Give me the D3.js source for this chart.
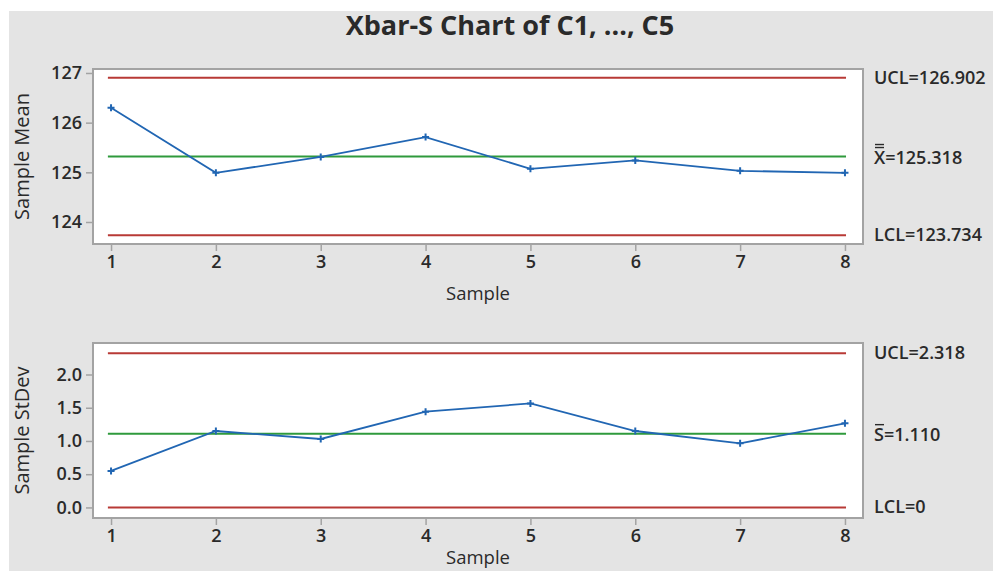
<!DOCTYPE html>
<html><head><meta charset="utf-8">
<script src="https://cdn.jsdelivr.net/npm/d3@7"></script>
<style>
html,body{margin:0;padding:0;background:#fff;}
text{font-family:"Open Sans","Noto Sans",sans-serif;fill:#2a2a2a;}
</style></head>
<body>
<svg id="chart" width="993" height="571"></svg>
<script>
const samples = [1,2,3,4,5,6,7,8];
const sampleMeans = [126.30, 124.99, 125.31, 125.71, 125.07, 125.24, 125.03, 124.99];
const sampleStDevs = [0.55, 1.15, 1.03, 1.44, 1.565, 1.15, 0.965, 1.265];
const meanTicks = [124, 125, 126, 127];
const sdTicks = [0.0, 0.5, 1.0, 1.5, 2.0];
const meanLimits = {UCL: 126.902, center: 125.318, LCL: 123.734};
const sdLimits = {UCL: 2.318, center: 1.110, LCL: 0};
const title = "Xbar-S Chart of C1, ..., C5";

const svg = d3.select("#chart");
const W = 993, H = 571;
svg.append("rect").attr("x",9).attr("y",11).attr("width",W-9).attr("height",H-11).attr("fill","#e4e4e4");

svg.append("text").attr("x",510).attr("y",35).attr("text-anchor","middle")
  .attr("font-size",27).attr("font-weight",700).text(title);

const RED="#b83a36", GREEN="#2f9a3c", BLUE="#2166b3", BORDER="#a3a3a3";
const left=93, right=863;
const x = d3.scaleLinear().domain([0.828, 8.172]).range([left, right]);

function panel(top, bottom, yDomain, ticks, fmt, values, limits, yTitle, centerSym, centerLabelFmt, xTitleOffset) {
  const y = d3.scaleLinear().domain(yDomain).range([bottom, top]);
  const g = svg.append("g");
  g.append("rect").attr("x",left).attr("y",top).attr("width",right-left).attr("height",bottom-top)
    .attr("fill","#fff").attr("stroke",BORDER).attr("stroke-width",2);
  const ya = g.append("g").attr("transform",`translate(${left-1},0)`)
    .call(d3.axisLeft(y).tickValues(ticks).tickFormat(fmt).tickSize(6).tickPadding(4));
  ya.select(".domain").remove();
  ya.selectAll("line").attr("stroke",BORDER).attr("stroke-width",1.5);
  ya.selectAll("text").attr("font-size",18).attr("font-weight",600).attr("fill","#2a2a2a").attr("font-family",'"Open Sans",sans-serif');
  const xa = g.append("g").attr("transform",`translate(0,${bottom+1})`)
    .call(d3.axisBottom(x).tickValues(samples).tickFormat(d3.format("d")).tickSize(6).tickPadding(4));
  xa.select(".domain").remove();
  xa.selectAll("line").attr("stroke",BORDER).attr("stroke-width",1.5);
  xa.selectAll("text").attr("font-size",18).attr("font-weight",600).attr("fill","#2a2a2a").attr("font-family",'"Open Sans",sans-serif');
  const x0 = x(0.97), x1 = x(8.01);
  [["UCL",RED],["center",GREEN],["LCL",RED]].forEach(([k,c])=>{
    g.append("line").attr("x1",x0).attr("x2",x1).attr("y1",y(limits[k])).attr("y2",y(limits[k]))
      .attr("stroke",c).attr("stroke-width",2);
  });
  const line = d3.line().x((d,i)=>x(samples[i])).y(d=>y(d));
  g.append("path").datum(values).attr("d",line).attr("fill","none").attr("stroke",BLUE).attr("stroke-width",1.8);
  g.selectAll(".pt").data(values).enter().append("path")
    .attr("d",(d,i)=>{const px=x(samples[i]), py=y(d); return `M${px-3.5},${py}H${px+3.5}M${px},${py-3.5}V${py+3.5}`;})
    .attr("stroke",BLUE).attr("stroke-width",2);
  g.append("text").attr("transform",`translate(29,${(top+bottom)/2}) rotate(-90)`).attr("text-anchor","middle")
    .attr("font-size",20).text(yTitle);
  g.append("text").attr("x",(left+right)/2).attr("y",bottom+xTitleOffset).attr("text-anchor","middle")
    .attr("font-size",18.5).text("Sample");
  const lx = 874, fs = 18;
  g.append("text").attr("x",lx).attr("y",y(limits.UCL)+6).attr("font-size",fs).attr("font-weight",600)
    .text("UCL=" + centerLabelFmt(limits.UCL));
  g.append("text").attr("x",lx).attr("y",y(limits.LCL)+6).attr("font-size",fs).attr("font-weight",600)
    .text("LCL=" + (limits.LCL===0 ? "0" : centerLabelFmt(limits.LCL)));
  const cy = y(limits.center)+7;
  const ct = g.append("text").attr("x",lx).attr("y",cy).attr("font-size",fs).attr("font-weight",600);
  ct.append("tspan").text(centerSym);
  ct.append("tspan").text("=" + centerLabelFmt(limits.center));
  const nBars = centerSym === "X" ? 2 : 1;
  for (let i=0;i<nBars;i++){
    g.append("line").attr("x1",lx+1).attr("x2",lx+10).attr("y1",cy-16-i*3).attr("y2",cy-16-i*3)
      .attr("stroke","#2a2a2a").attr("stroke-width",1.4);
  }
  return y;
}

panel(69, 244, [123.557, 127.08], meanTicks, d3.format("d"), sampleMeans, meanLimits, "Sample Mean", "X", d3.format(".3f"), 56);
panel(343, 518, [-0.159, 2.474], sdTicks, d3.format(".1f"), sampleStDevs, sdLimits, "Sample StDev", "S", d3.format(".3f"), 46);
</script>
</body></html>
